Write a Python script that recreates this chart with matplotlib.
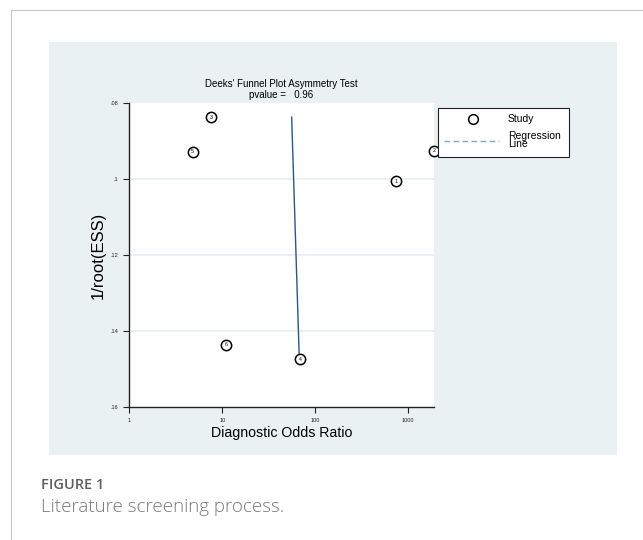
import matplotlib
matplotlib.use("Agg")
import matplotlib.pyplot as plt
from matplotlib.patches import Rectangle
from matplotlib.lines import Line2D

plt.rcParams["font.family"] = ["Liberation Sans", "DejaVu Sans"]

# Study data: diagnostic odds ratio vs 1/root(ESS)
study_ids = ["1", "2", "3", "4", "5", "6"]
dor = [738, 1875, 7.6, 69, 4.8, 10.9]
inv_root_ess = [0.1006, 0.0926, 0.0838, 0.1474, 0.0929, 0.1436]

# Fitted regression line endpoints
reg_dor = [55.7, 67.0]
reg_y = [0.0838, 0.1458]

y_ticks = [0.08, 0.10, 0.12, 0.14, 0.16]
y_tick_labels = [".08", ".1", ".12", ".14", ".16"]
x_ticks = [1, 10, 100, 1000]
x_tick_labels = ["1", "10", "100", "1000"]

W, H = 643, 540
fig = plt.figure(figsize=(W / 100, H / 100), dpi=100)
fig.patch.set_facecolor("white")

def fx(px):
    return px / W

def fy(py):
    return 1 - py / H

# page frame lines
fig.add_artist(Line2D([fx(11), fx(11)], [fy(10), fy(540)], color="#c8c8c8", lw=0.8))
fig.add_artist(Line2D([fx(11), fx(643)], [fy(10), fy(10)], color="#c8c8c8", lw=0.8))

# graph panel background
fig.add_artist(Rectangle((fx(49), fy(455)), fx(617 - 49), (455 - 42) / H,
                         facecolor="#e9f1f3", edgecolor="none", zorder=0))

ax = fig.add_axes([fx(129.3), fy(407.3), fx(433.5 - 129.3), (407.3 - 102.7) / H])
ax.set_facecolor("white")
ax.set_xscale("log")
ax.set_xlim(1, 10 ** ((433.5 - 129.3) / 93.0))
ax.set_ylim(0.16, 0.08)

for s in ["top", "right"]:
    ax.spines[s].set_visible(False)
for s in ["left", "bottom"]:
    ax.spines[s].set_linewidth(1.0)
    ax.spines[s].set_color("#222222")

ax.set_yticks(y_ticks)
ax.set_yticklabels(y_tick_labels, fontsize=4)
ax.set_xticks(x_ticks)
ax.set_xticklabels(x_tick_labels, fontsize=4)
ax.xaxis.set_minor_locator(matplotlib.ticker.NullLocator())
ax.tick_params(axis="both", length=4, width=0.8, pad=4, colors="#222222")

for yv in [0.10, 0.12, 0.14]:
    ax.axhline(yv, color="#e6eff2", lw=1.2, zorder=1)

ax.plot(reg_dor, reg_y, color="#2a5783", lw=1.0, zorder=2)

ax.scatter(dor, inv_root_ess, s=55, facecolors="white", edgecolors="black",
           linewidths=1.1, zorder=3, clip_on=False)
for sid, xv, yv in zip(study_ids, dor, inv_root_ess):
    ax.text(xv, yv, sid, fontsize=3.8, ha="center", va="center", zorder=4)

ax.set_xlabel("Diagnostic Odds Ratio", fontsize=10.2, labelpad=2)
ax.set_ylabel("1/root(ESS)", fontsize=12, labelpad=3)

fig.text(fx(281), fy(84), "Deeks' Funnel Plot Asymmetry Test", fontsize=7,
         ha="center", va="center")
fig.text(fx(281), fy(95), "pvalue =   0.96", fontsize=7, ha="center", va="center")

# legend box
fig.add_artist(Rectangle((fx(438), fy(157)), fx(569 - 438), (157 - 108) / H,
                         facecolor="white", edgecolor="#222222", lw=0.8))
fig.add_artist(Line2D([fx(473)], [fy(119)], marker="o", markersize=7,
                      markerfacecolor="white", markeredgecolor="black", mew=1.1))
fig.text(fx(508), fy(119), "Study", fontsize=7.5, va="center")
fig.add_artist(Line2D([fx(444), fx(499)], [fy(141), fy(141)], color="#7fa6c4",
                      lw=1.0, linestyle=(0, (4, 2.5))))
fig.text(fx(508), fy(140), "Regression\nLine", fontsize=7.5, va="center",
         linespacing=0.75)

fig.text(fx(41), fy(485), "FIGURE 1", fontsize=10.5, color="#5f5f5f",
         family=["Open Sans", "DejaVu Sans"], fontweight="semibold", va="center")
fig.text(fx(41), fy(507), "Literature screening process.", fontsize=13.5,
         color="#7a7a7a", family=["Open Sans", "DejaVu Sans"],
         fontweight="light", va="center")

fig.savefig("out.png", dpi=100)
